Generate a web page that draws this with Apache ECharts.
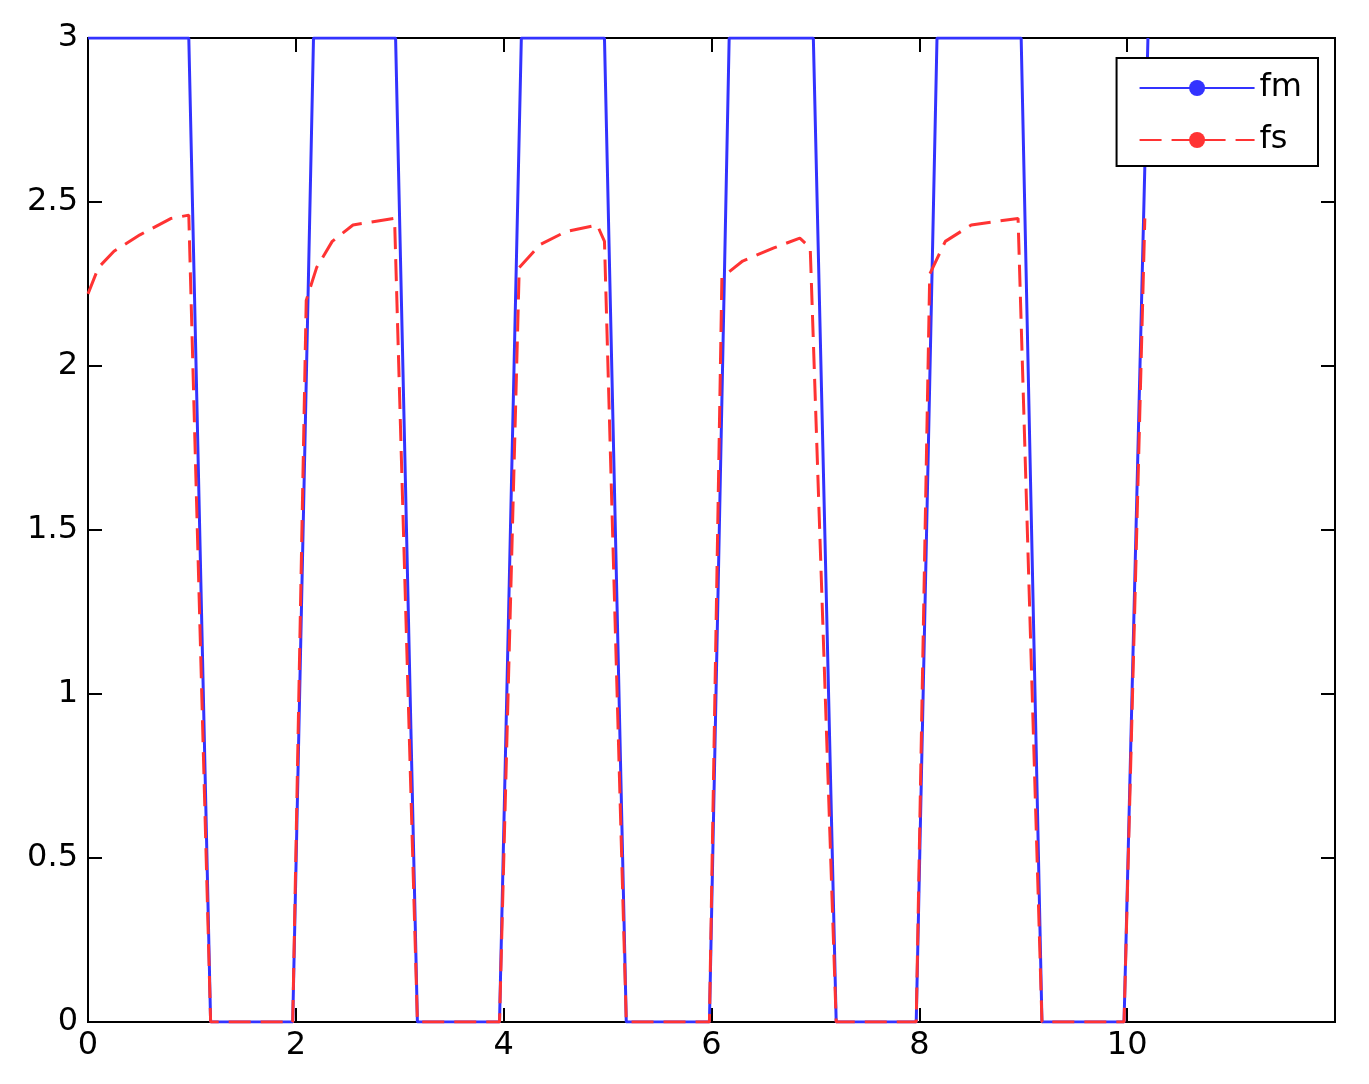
<!DOCTYPE html>
<html lang="en">
  <head>
    <meta charset="UTF-8" />
    <title>fm / fs</title>
    <style>
      * { padding: 0; margin: 0; }
      html, body { width: 100%; height: 100%; background: #fff; }
      #main { width: 1369px; height: 1084px; }
    </style>
  </head>
  <body>
    <div id="main"></div>
    <script src="https://cdn.jsdelivr.net/npm/echarts@6/dist/echarts.min.js"></script>
    <script>
      // x ticks and y ticks
      var xTicks = [0, 2, 4, 6, 8, 10];
      var yTicks = [0, 0.5, 1, 1.5, 2, 2.5, 3];

      // fm: square wave
      var fmX = [0, 0.97, 1.18, 1.97, 2.17, 2.96, 3.17, 3.96, 4.17, 4.97, 5.18, 5.98, 6.17, 6.98, 7.2, 7.97, 8.17, 8.98, 9.18, 9.97, 10.2];
      var fmY = [3, 3, 0, 0, 3, 3, 0, 0, 3, 3, 0, 0, 3, 3, 0, 0, 3, 3, 0, 0, 3];

      // fs: follows fm but with a rising plateau
      var fsX = [0, 0.1, 0.25, 0.5, 0.8, 0.97, 1.18, 1.97, 2.1, 2.2, 2.35, 2.55, 2.95, 3.17, 3.96, 4.15, 4.35, 4.6, 4.9, 4.97, 5.18, 5.98, 6.1, 6.3, 6.6, 6.85, 6.95, 7.2, 7.97, 8.1, 8.25, 8.5, 8.95, 9.18, 9.97, 10.17];
      var fsY = [2.22, 2.3, 2.35, 2.4, 2.45, 2.46, 0, 0, 2.2, 2.3, 2.38, 2.43, 2.45, 0, 0, 2.3, 2.37, 2.41, 2.43, 2.38, 0, 0, 2.27, 2.32, 2.36, 2.39, 2.36, 0, 0, 2.28, 2.38, 2.43, 2.45, 0, 0, 2.45];

      var chart = echarts.init(document.getElementById('main'));
      var font = { fontFamily: 'DejaVu Sans', fontSize: 32, color: '#000' };
      var axisCommon = {
        min: 0,
        axisLine: { show: true, onZero: false, lineStyle: { color: '#000', width: 2 } },
        axisTick: { show: true, inside: true, length: 14, lineStyle: { color: '#000', width: 2 } },
        splitLine: { show: false }
      };
      function mirror(extra) {
        return Object.assign({}, axisCommon, { axisLabel: { show: false } }, extra);
      }

      chart.setOption({
        animation: false,
        grid: { left: 88, right: 34, top: 38, bottom: 62, show: true, borderColor: '#000', borderWidth: 2 },
        legend: {
          right: 51, top: 58, orient: 'vertical',
          itemWidth: 115, itemHeight: 20, itemGap: 20,
          padding: [14, 16, 10, 22],
          borderColor: '#000', borderWidth: 2, backgroundColor: '#fff',
          textStyle: font,
          data: ['fm', 'fs']
        },
        xAxis: [
          Object.assign({}, axisCommon, {
            type: 'value', max: 12, interval: 2,
            axisLabel: Object.assign({ margin: 8, formatter: function (v) { return xTicks.indexOf(v) >= 0 ? v : ''; } }, font)
          }),
          mirror({ type: 'value', position: 'top', max: 12, interval: 2 })
        ],
        yAxis: [
          Object.assign({}, axisCommon, {
            type: 'value', max: 3, interval: 0.5,
            axisLabel: Object.assign({ margin: 10 }, font)
          }),
          mirror({ type: 'value', position: 'right', max: 3, interval: 0.5 })
        ],
        series: [
          {
            name: 'fm', type: 'line', showSymbol: false, symbol: 'none', clip: true,
            itemStyle: { color: '#3333ff' },
            lineStyle: { color: '#3333ff', width: 3 },
            data: fmX.map(function (x, i) { return [x, fmY[i]]; })
          },
          {
            name: 'fs', type: 'line', showSymbol: false, symbol: 'none', clip: true,
            itemStyle: { color: '#ff3333' },
            lineStyle: { color: '#ff3333', width: 3, type: [22, 10] },
            data: fsX.map(function (x, i) { return [x, fsY[i]]; })
          }
        ]
      });
    </script>
  </body>
</html>
